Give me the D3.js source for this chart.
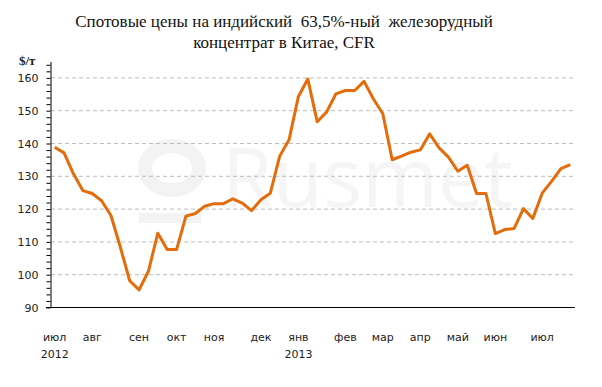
<!DOCTYPE html>
<html>
<head>
<meta charset="utf-8">
<script src="https://cdn.jsdelivr.net/npm/d3@7"></script>
<style>
  body { margin: 0; background: #fff; }
  svg { display: block; }
</style>
</head>
<body>
<div id="graph"></div>
<script>
// chart size
var width = 602;
var height = 387;

// weekly spot prices, $/t
var prices = [138.7, 137.0, 130.6, 125.5, 124.6, 122.4, 117.9, 108.3, 98.0, 95.2,
  100.9, 112.5, 107.5, 107.5, 117.7, 118.5, 120.7, 121.5, 121.5, 123.0,
  121.7, 119.4, 122.7, 124.7, 136.0, 141.0, 154.2, 159.5, 146.5, 149.4,
  155.0, 156.0, 156.0, 158.8, 153.4, 148.9, 134.9, 136.0, 137.2, 137.9,
  142.8, 138.5, 135.7, 131.4, 133.2, 124.6, 124.6, 112.4, 113.6, 113.9,
  120.0, 117.0, 124.7, 128.3, 132.2, 133.4];

// month labels: week index where each month starts
var monthIndex = [0, 4, 9, 13, 17, 22, 26, 31, 35, 39, 43, 47, 52];
var monthNames = ["июл", "авг", "сен", "окт", "ноя", "дек", "янв", "фев", "мар", "апр", "май", "июн", "июл"];
var yearIndex = [0, 26];
var yearNames = ["2012", "2013"];

var yTicks = d3.range(90, 165, 2);
var yGrid = [100, 110, 120, 130, 140, 150, 160];

var svg = d3.select("#graph")
  .append("svg")
  .attr("width", width)
  .attr("height", height);

// faint watermark
var wm = svg.append("g").attr("fill", "none").attr("stroke", "#f3f3f3");
wm.append("ellipse")
  .attr("cx", 172).attr("cy", 168).attr("rx", 27).attr("ry", 22)
  .attr("stroke-width", 14);
wm.append("rect")
  .attr("x", 139).attr("y", 213).attr("width", 62).attr("height", 10)
  .attr("fill", "#f3f3f3").attr("stroke", "none");
svg.append("text")
  .attr("x", 222).attr("y", 207)
  .attr("font-family", "Open Sans, sans-serif")
  .attr("font-size", 82)
  .attr("fill", "#f5f5f5")
  .text("Rusmet");

// scales
var xScale = d3.scalePoint()
  .domain(d3.range(prices.length))
  .range([50, 575])
  .padding(0.5);

var yScale = d3.scaleLinear()
  .domain([90, 165])
  .range([307, 61]);

// grid lines
svg.append("g")
  .selectAll("line")
  .data(yGrid)
  .join("line")
  .attr("x1", 51).attr("x2", 575)
  .attr("y1", function(d) { return yScale(d) + 0.5; })
  .attr("y2", function(d) { return yScale(d) + 0.5; })
  .attr("stroke", "#bdbdbd")
  .attr("stroke-dasharray", "4,3");

// y axis
var yAxis = svg.append("g")
  .attr("transform", "translate(50.5,0.5)")
  .call(d3.axisLeft(yScale)
    .tickValues(yTicks)
    .tickSize(4)
    .tickSizeOuter(0)
    .tickPadding(8)
    .tickFormat(function(d) { return d % 10 === 0 ? d : ""; }));
yAxis.selectAll("text")
  .attr("font-family", "DejaVu Sans, sans-serif")
  .attr("font-size", 11)
  .attr("fill", "#222");

// x axis line
svg.append("line")
  .attr("x1", 46).attr("x2", 575)
  .attr("y1", yScale(90) + 0.5).attr("y2", yScale(90) + 0.5)
  .attr("stroke", "#000");

// month and year labels
svg.append("g")
  .selectAll("text")
  .data(monthIndex)
  .join("text")
  .attr("x", function(d) { return xScale(d); })
  .attr("y", 341)
  .attr("text-anchor", "middle")
  .attr("font-family", "DejaVu Sans, sans-serif")
  .attr("font-size", 11)
  .attr("fill", "#222")
  .text(function(d, i) { return monthNames[i]; });

svg.append("g")
  .selectAll("text")
  .data(yearIndex)
  .join("text")
  .attr("x", function(d) { return xScale(d); })
  .attr("y", 358)
  .attr("text-anchor", "middle")
  .attr("font-family", "DejaVu Sans, sans-serif")
  .attr("font-size", 11)
  .attr("fill", "#222")
  .text(function(d, i) { return yearNames[i]; });

// price line
var line = d3.line()
  .x(function(d, i) { return xScale(i); })
  .y(function(d) { return yScale(d); });

svg.append("path")
  .datum(prices)
  .attr("fill", "none")
  .attr("stroke", "#e46c0a")
  .attr("stroke-width", 3)
  .attr("stroke-linejoin", "round")
  .attr("d", line);

// title
var title = svg.append("text")
  .attr("text-anchor", "middle")
  .attr("font-family", "Liberation Serif, serif")
  .attr("font-size", 17)
  .attr("fill", "#111");
title.append("tspan").attr("x", 284).attr("y", 27)
  .text("Спотовые цены на индийский\u00a0 63,5%-ный\u00a0 железорудный");
title.append("tspan").attr("x", 284).attr("y", 48)
  .text("концентрат в Китае, CFR");

// unit label
svg.append("text")
  .attr("x", 19).attr("y", 65)
  .attr("font-family", "Liberation Serif, serif")
  .attr("font-weight", "bold")
  .attr("font-size", 13)
  .attr("fill", "#222")
  .text("$/т");
</script>
</body>
</html>
